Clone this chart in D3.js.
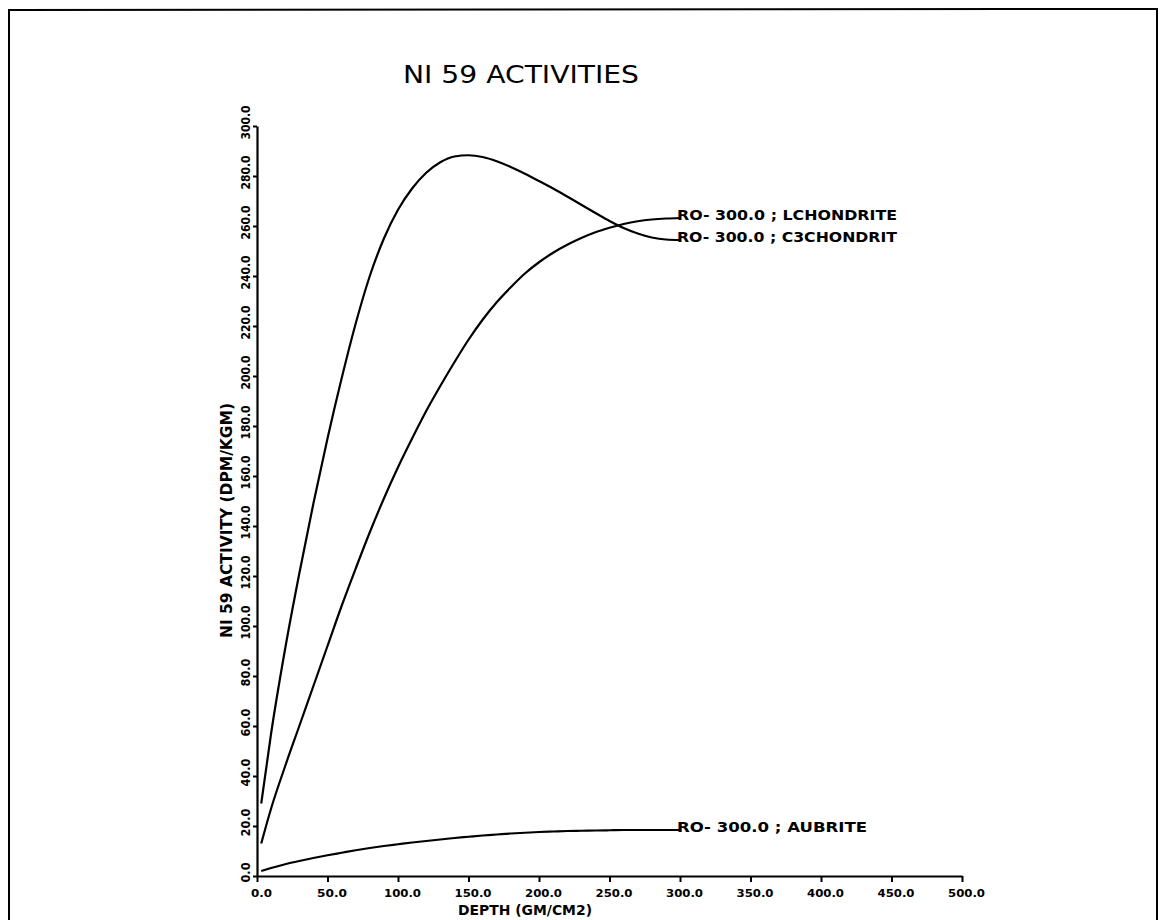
<!DOCTYPE html>
<html>
<head>
<meta charset="utf-8">
<script src="https://cdn.jsdelivr.net/npm/d3@7"></script>
<style>
  html, body { margin: 0; padding: 0; background: #fff; }
  svg { display: block; }
  text { font-family: "DejaVu Sans", sans-serif; fill: #000; }
</style>
</head>
<body>
<svg id="chart" width="1161" height="920"></svg>
<script>
// ---- data ----
const title = "NI 59 ACTIVITIES";
const xTitle = "DEPTH (GM/CM2)";
const yTitle = "NI 59 ACTIVITY (DPM/KGM)";
const xTicks = [0, 50, 100, 150, 200, 250, 300, 350, 400, 450, 500];
const yTicks = [0, 20, 40, 60, 80, 100, 120, 140, 160, 180, 200, 220, 240, 260, 280, 300];

const depth = [3, 10, 20, 30, 40, 50, 60, 70, 80, 90, 100, 110, 120, 130, 140, 150, 160, 170, 180, 190, 200, 210, 220, 230, 240, 250, 260, 270, 280, 290, 300];
const lchondrite = [13, 27, 44, 60, 76, 92, 108, 123, 137.5, 151, 163.5, 175, 186, 196, 205.5, 214.5, 222.5, 229.5, 235.5, 241, 245.5, 249.3, 252.5, 255.2, 257.5, 259.3, 260.8, 261.9, 262.6, 263, 263.2];
const c3chondrit = [29, 57, 91, 121, 149, 175, 199, 221, 240, 255, 266.5, 275, 281.3, 285.5, 287.8, 288.3, 287.6, 285.9, 283.6, 280.9, 278, 275, 271.8, 268.5, 265.2, 262, 259.2, 257, 255.4, 254.6, 254.4];
const aubrite = [2, 3.2, 4.7, 6, 7.2, 8.3, 9.3, 10.3, 11.2, 12, 12.7, 13.4, 14, 14.6, 15.2, 15.7, 16.2, 16.6, 17, 17.3, 17.6, 17.8, 18, 18.1, 18.2, 18.3, 18.4, 18.4, 18.4, 18.4, 18.4];
const seriesNames = ["RO- 300.0 ; LCHONDRITE", "RO- 300.0 ; C3CHONDRIT", "RO- 300.0 ; AUBRITE"];

// ---- drawing ----
const svg = d3.select("#chart");
const x = d3.scaleLinear().domain([0, 500]).range([257, 962]);
const y = d3.scaleLinear().domain([0, 300]).range([876, 126]);

// frame
svg.append("path")
  .attr("d", "M9,920 L9,10 L1157,9 L1157,920")
  .attr("fill", "none").attr("stroke", "#000").attr("stroke-width", 2);

// title
svg.append("text").attr("x", 403).attr("y", 83)
  .attr("font-size", 24).attr("textLength", 236).attr("lengthAdjust", "spacingAndGlyphs")
  .text(title);

// x axis
const xAxis = d3.axisBottom(x).tickValues(xTicks).tickSize(6).tickSizeOuter(0)
  .tickFormat(d3.format(".1f"));
const gx = svg.append("g").attr("transform", `translate(0,${y(0)})`).call(xAxis);
gx.select(".domain").attr("stroke-width", 2.2);
gx.selectAll(".tick line").attr("stroke-width", 2);
gx.selectAll(".tick text").attr("font-family", "DejaVu Sans Condensed, DejaVu Sans").attr("font-weight", "bold")
  .attr("font-size", 11).attr("y", 21).attr("dy", null).attr("dx", 4)
  .attr("textLength", d => d >= 100 ? 37 : (d > 0 ? 30 : 21)).attr("lengthAdjust", "spacingAndGlyphs");

// y axis
const yAxis = d3.axisLeft(y).tickValues(yTicks).tickSize(4).tickSizeOuter(0)
  .tickFormat(d3.format(".1f"));
const gy = svg.append("g").attr("transform", `translate(${x(0)},0)`).call(yAxis);
gy.select(".domain").attr("stroke-width", 2.2);
gy.selectAll(".tick line").attr("stroke-width", 2);
gy.selectAll(".tick text")
  .attr("font-family", "DejaVu Sans Condensed, DejaVu Sans").attr("font-weight", "bold").attr("font-size", 12)
  .attr("x", null).attr("dy", null).attr("dx", 4)
  .attr("text-anchor", "middle")
  .attr("textLength", d => d >= 100 ? 34 : (d > 0 ? 28 : 20)).attr("lengthAdjust", "spacingAndGlyphs")
  .attr("transform", "translate(-7,0) rotate(-90)");

// axis titles
svg.append("text").attr("x", 458).attr("y", 915)
  .attr("font-size", 14).attr("font-weight", "bold")
  .attr("textLength", 134).attr("lengthAdjust", "spacingAndGlyphs").text(xTitle);
svg.append("text").attr("font-size", 15).attr("font-weight", "bold")
  .attr("transform", `translate(232,638) rotate(-90)`)
  .attr("textLength", 235).attr("lengthAdjust", "spacingAndGlyphs")
  .text(yTitle);

// curves
const allSeries = [lchondrite, c3chondrit, aubrite];
const line = d3.line().x((d, i) => x(depth[i])).y(d => y(d)).curve(d3.curveMonotoneX);
allSeries.forEach((vals, k) => {
  svg.append("path").datum(vals).attr("d", line)
    .attr("fill", "none").attr("stroke", "#000").attr("stroke-width", 2.2);
  const last = vals[vals.length - 1];
  const name = seriesNames[k];
  svg.append("text").attr("x", x(depth[depth.length - 1]) - 3).attr("y", y(last) + 2)
    .attr("font-size", 14).attr("font-weight", "bold")
    .attr("textLength", name.length * 10).attr("lengthAdjust", "spacingAndGlyphs")
    .text(name);
});
</script>
</body>
</html>
